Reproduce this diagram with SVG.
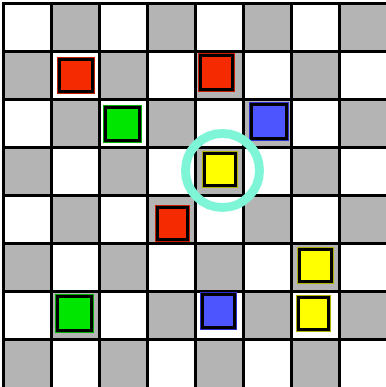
<svg xmlns="http://www.w3.org/2000/svg" width="386" height="387" viewBox="0 0 386 387">
<style>
.w{fill:#ffffff}
.g{fill:#b4b4b4}
.grid{stroke:#000;stroke-width:3;fill:none}
.ring{fill:none;stroke:#000;stroke-width:3}
.red{fill:#f52a00;stroke:#c81e00;stroke-width:1}
.grn{fill:#00e600;stroke:#00b000;stroke-width:1}
.blu{fill:#4d55ff;stroke:#2a30d0;stroke-width:1}
.yel{fill:#ffff00;stroke:#b0b000;stroke-width:1}
</style>
<rect x="0" y="0" width="386" height="387" fill="#fff"/>
<g id="board">
<rect class="w" x="3" y="3" width="384" height="384"/>
<g class="g">
<rect x="51" y="3" width="48" height="48"/><rect x="147" y="3" width="48" height="48"/><rect x="243" y="3" width="48" height="48"/><rect x="339" y="3" width="48" height="48"/>
<rect x="3" y="51" width="48" height="48"/><rect x="99" y="51" width="48" height="48"/><rect x="195" y="51" width="48" height="48"/><rect x="291" y="51" width="48" height="48"/>
<rect x="51" y="99" width="48" height="48"/><rect x="147" y="99" width="48" height="48"/><rect x="243" y="99" width="48" height="48"/><rect x="339" y="99" width="48" height="48"/>
<rect x="3" y="147" width="48" height="48"/><rect x="99" y="147" width="48" height="48"/><rect x="195" y="147" width="48" height="48"/><rect x="291" y="147" width="48" height="48"/>
<rect x="51" y="195" width="48" height="48"/><rect x="147" y="195" width="48" height="48"/><rect x="243" y="195" width="48" height="48"/><rect x="339" y="195" width="48" height="48"/>
<rect x="3" y="243" width="48" height="48"/><rect x="99" y="243" width="48" height="48"/><rect x="195" y="243" width="48" height="48"/><rect x="291" y="243" width="48" height="48"/>
<rect x="51" y="291" width="48" height="48"/><rect x="147" y="291" width="48" height="48"/><rect x="243" y="291" width="48" height="48"/><rect x="339" y="291" width="48" height="48"/>
<rect x="3" y="339" width="48" height="48"/><rect x="99" y="339" width="48" height="48"/><rect x="195" y="339" width="48" height="48"/><rect x="291" y="339" width="48" height="48"/>
</g>
<path class="grid" d="M3.5 3V387M51.5 3V387M99.5 3V387M147.5 3V387M195.5 3V387M243.5 3V387M291.5 3V387M339.5 3V387M2 3.5H387M2 51.5H387M2 99.5H387M2 147.5H387M2 195.5H387M2 243.5H387M2 291.5H387M2 339.5H387"/>
</g>
<g id="p1"><rect class="red" x="57.5" y="57.5" width="37" height="36"/><rect class="ring" x="59.5" y="59.5" width="33" height="32"/></g>
<g id="p2"><rect class="red" x="198.5" y="53.5" width="36" height="38"/><rect class="ring" x="200.5" y="55.5" width="32" height="34"/></g>
<g id="p3"><rect class="grn" x="103.5" y="105.5" width="38" height="37"/><rect class="ring" x="105.5" y="107.5" width="34" height="33"/></g>
<g id="p4"><rect class="blu" x="249.5" y="102.5" width="39" height="38"/><rect class="ring" x="251.5" y="104.5" width="35" height="34"/></g>
<g id="p5"><rect class="yel" x="202.5" y="151.5" width="35" height="36"/><rect class="ring" x="204.5" y="153.5" width="31" height="32"/></g>
<g id="p6"><rect class="red" x="155.5" y="205.5" width="34" height="36"/><rect class="ring" x="157.5" y="207.5" width="30" height="32"/></g>
<g id="p7"><rect class="yel" x="297.5" y="247.5" width="36" height="36"/><rect class="ring" x="299.5" y="249.5" width="32" height="32"/></g>
<g id="p8"><rect class="grn" x="55.5" y="294.5" width="38" height="38"/><rect class="ring" x="57.5" y="296.5" width="34" height="34"/></g>
<g id="p9"><rect class="blu" x="200.5" y="292.5" width="36" height="37"/><rect class="ring" x="202.5" y="294.5" width="32" height="33"/></g>
<g id="p10"><rect class="yel" x="296.5" y="295.5" width="34" height="36"/><rect class="ring" x="298.5" y="297.5" width="30" height="32"/></g>
<g id="highlight"><circle cx="222.5" cy="170.5" r="37" fill="none" stroke="#7df5d6" stroke-width="9"/></g>
</svg>
